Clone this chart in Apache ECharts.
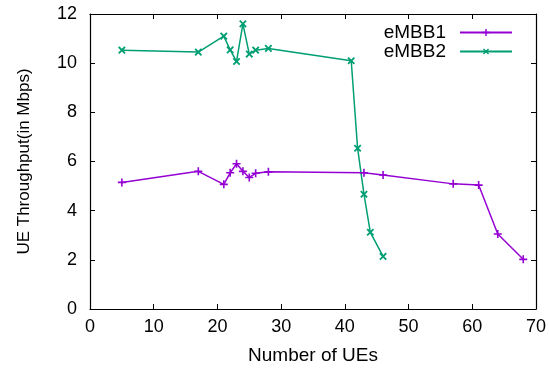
<!DOCTYPE html>
<html>
<head>
<meta charset="utf-8">
<script src="https://cdn.jsdelivr.net/npm/echarts@6/dist/echarts.min.js"></script>
<style>
  html, body { margin: 0; padding: 0; background: #fff; }
  #chart { width: 549px; height: 370px; }
</style>
</head>
<body>
<div id="chart"></div>
<script>
// Throughput per UE versus number of UEs for two eMBB slices
const embb1Users = [5, 17, 21, 22, 23, 24, 25, 26, 28, 43, 46, 57, 61, 64, 68];
const embb1Mbps  = [5.15, 5.6, 5.07, 5.54, 5.91, 5.6, 5.35, 5.52, 5.58, 5.54, 5.45, 5.09, 5.04, 3.05, 2.02];

const embb2Users = [5, 17, 21, 22, 23, 24, 25, 26, 28, 41, 42, 43, 44, 46];
const embb2Mbps  = [10.53, 10.45, 11.1, 10.54, 10.07, 11.6, 10.37, 10.53, 10.6, 10.1, 6.54, 4.67, 3.12, 2.14];

const seriesNames = ['eMBB1', 'eMBB2'];

const pair = (xs, ys) => xs.map((x, i) => [x, ys[i]]);

const FONT = 'Liberation Sans, Arial, sans-serif';
const PLUS = 'path://M-1,-5H1V-1H5V1H1V5H-1V1H-5V-1H-1Z';

const tickStyle = { inside: true, length: 5, lineStyle: { color: '#000', width: 1 } };
const frameLine = { show: true, onZero: false, lineStyle: { color: '#000', width: 1.2 } };

const chart = echarts.init(document.getElementById('chart'), null, { renderer: 'canvas' });
chart.setOption({
  animation: false,
  backgroundColor: '#fff',
  grid: { left: 90, right: 12, top: 14, bottom: 60 },
  legend: {
    orient: 'vertical',
    right: 31,
    top: 18,
    align: 'right',
    itemWidth: 52,
    itemHeight: 9,
    itemGap: 0,
    textStyle: { fontFamily: FONT, fontSize: 19, lineHeight: 19, color: '#000', padding: [0, 9, 0, 0] },
    data: seriesNames
  },
  xAxis: [{
    type: 'value', min: 0, max: 70, interval: 10,
    name: 'Number of UEs', nameLocation: 'middle', nameGap: 37,
    nameTextStyle: { fontFamily: FONT, fontSize: 19, color: '#000' },
    axisLine: frameLine,
    axisTick: tickStyle,
    axisLabel: { fontFamily: FONT, fontSize: 18, color: '#000', margin: 9 },
    splitLine: { show: false }
  }, {
    type: 'value', min: 0, max: 70, interval: 10, position: 'top',
    axisLine: frameLine,
    axisTick: tickStyle,
    axisLabel: { show: false },
    splitLine: { show: false }
  }],
  yAxis: [{
    type: 'value', min: 0, max: 12, interval: 2,
    name: 'UE Throughput(in Mbps)', nameLocation: 'middle', nameGap: 57,
    nameTextStyle: { fontFamily: FONT, fontSize: 17, color: '#000' },
    axisLine: frameLine,
    axisTick: tickStyle,
    axisLabel: { fontFamily: FONT, fontSize: 18, color: '#000', margin: 13 },
    splitLine: { show: false }
  }, {
    type: 'value', min: 0, max: 12, interval: 2, position: 'right',
    axisLine: frameLine,
    axisTick: tickStyle,
    axisLabel: { show: false },
    splitLine: { show: false }
  }],
  series: [{
    name: seriesNames[0],
    type: 'line',
    data: pair(embb1Users, embb1Mbps),
    color: '#9400d3',
    lineStyle: { width: 1.5 },
    symbol: PLUS,
    symbolSize: 8,
    showAllSymbol: true
  }, {
    name: seriesNames[1],
    type: 'line',
    data: pair(embb2Users, embb2Mbps),
    color: '#009e73',
    lineStyle: { width: 1.5 },
    symbol: PLUS,
    symbolSize: 9,
    symbolRotate: 45,
    showAllSymbol: true
  }]
});
</script>
</body>
</html>
